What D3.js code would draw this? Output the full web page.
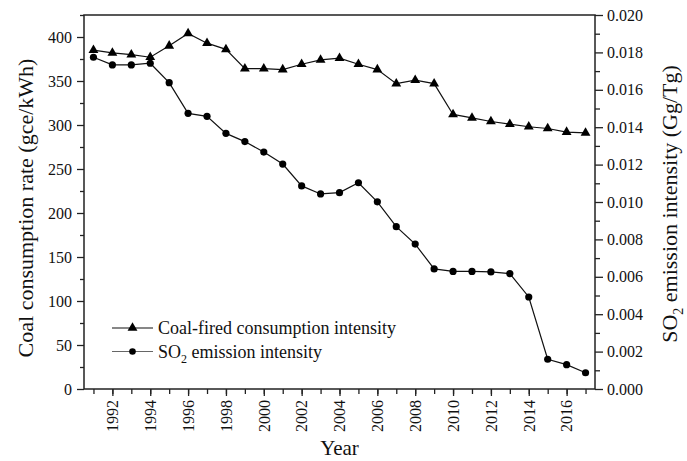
<!DOCTYPE html>
<html>
<head>
<meta charset="utf-8">
<script src="https://cdn.jsdelivr.net/npm/d3@7"></script>
<style>
  body { margin: 0; background: #fff; }
  svg { display: block; font-family: "Liberation Serif", "Times New Roman", serif; }
</style>
</head>
<body>
<div id="chart"></div>
<script>
// data
var years = d3.range(1991, 2018);
var coalRate = [385, 382, 380, 377, 390, 404, 393, 386, 364, 364, 363, 369, 374, 376,
  369, 363, 347, 351, 347, 312, 308, 304, 301, 298, 296, 292, 291];
var so2Intensity = [0.01774, 0.01733, 0.01733, 0.01742, 0.01638, 0.01474, 0.01458, 0.01367,
  0.01323, 0.01267, 0.01203, 0.01086, 0.01043, 0.0105, 0.01103, 0.01001, 0.00868, 0.00775,
  0.00642, 0.00629, 0.00629, 0.00626, 0.00617, 0.00492, 0.00159, 0.0013, 0.00087];
var yearTicks = d3.range(1992, 2017, 2);
var leftTicks = d3.range(0, 401, 50);
var rightTicks = d3.range(0, 0.0201, 0.002);

var width = 687, height = 461;
var margin = { top: 15, right: 92, bottom: 72, left: 84 };

var svg = d3.select("#chart").append("svg").attr("width", width).attr("height", height);

var x = d3.scaleLinear([1990.5, 2017.5], [margin.left, width - margin.right]);
var yL = d3.scaleLinear([0, 425], [height - margin.bottom, margin.top]);
var yR = d3.scaleLinear([0, 0.02], [height - margin.bottom, margin.top]);

var bottom = height - margin.bottom;
var axisColor = "#222";

function styleAxis(g) {
  g.attr("font-family", null).attr("font-size", null);
  g.select(".domain").remove();
  g.selectAll("line").attr("stroke", axisColor).attr("stroke-width", 1.3);
  g.selectAll("text").attr("fill", "#111").attr("font-size", 16);
}

// minor ticks
svg.append("g").attr("transform", "translate(0," + bottom + ")")
  .call(d3.axisBottom(x).tickValues(d3.range(1991, 2018)).tickSize(5).tickFormat(""))
  .call(styleAxis);
svg.append("g").attr("transform", "translate(" + margin.left + ",0)")
  .call(d3.axisLeft(yL).tickValues(d3.range(25, 426, 50)).tickSize(4).tickFormat(""))
  .call(styleAxis);
svg.append("g").attr("transform", "translate(" + (width - margin.right) + ",0)")
  .call(d3.axisRight(yR).tickValues(d3.range(0.001, 0.02, 0.002)).tickSize(5).tickFormat(""))
  .call(styleAxis);

// major ticks
svg.append("g").attr("transform", "translate(0," + bottom + ")")
  .call(d3.axisBottom(x).tickValues(yearTicks).tickSize(7).tickFormat(d3.format("d")))
  .call(styleAxis)
  .call(function (g) {
    g.selectAll("text")
      .attr("transform", "rotate(-90)")
      .attr("text-anchor", "end")
      .attr("x", -11)
      .attr("y", 0)
      .attr("dy", "0.33em");
  });
svg.append("g").attr("transform", "translate(" + margin.left + ",0)")
  .call(d3.axisLeft(yL).tickValues(leftTicks).tickSize(7).tickPadding(5))
  .call(styleAxis);
svg.append("g").attr("transform", "translate(" + (width - margin.right) + ",0)")
  .call(d3.axisRight(yR).tickValues(rightTicks).tickSize(8).tickPadding(4).tickFormat(d3.format(".3f")))
  .call(styleAxis);

// frame
svg.append("rect")
  .attr("x", margin.left)
  .attr("y", margin.top)
  .attr("width", width - margin.left - margin.right)
  .attr("height", height - margin.top - margin.bottom)
  .attr("fill", "none")
  .attr("stroke", axisColor)
  .attr("stroke-width", 1.5);

// series
var coalData = years.map(function (d, i) { return [d, coalRate[i]]; });
var so2Data = years.map(function (d, i) { return [d, so2Intensity[i]]; });

svg.append("path")
  .datum(coalData)
  .attr("fill", "none")
  .attr("stroke", "#111")
  .attr("stroke-width", 1.2)
  .attr("d", d3.line().x(function (d) { return x(d[0]); }).y(function (d) { return yL(d[1]); }));

svg.append("path")
  .datum(so2Data)
  .attr("fill", "none")
  .attr("stroke", "#111")
  .attr("stroke-width", 1.2)
  .attr("d", d3.line().x(function (d) { return x(d[0]); }).y(function (d) { return yR(d[1]); }));

var tri = d3.symbol().type(d3.symbolTriangle).size(42);

svg.append("g")
  .selectAll("path")
  .data(coalData)
  .join("path")
  .attr("d", tri)
  .attr("fill", "#000")
  .attr("transform", function (d) { return "translate(" + x(d[0]) + "," + yL(d[1]) + ")"; });

svg.append("g")
  .selectAll("circle")
  .data(so2Data)
  .join("circle")
  .attr("cx", function (d) { return x(d[0]); })
  .attr("cy", function (d) { return yR(d[1]); })
  .attr("r", 3.6)
  .attr("fill", "#000");

// legend
var legend = svg.append("g").attr("transform", "translate(112,328)");
legend.append("line").attr("x1", 0).attr("x2", 41).attr("y1", 0).attr("y2", 0)
  .attr("stroke", "#111").attr("stroke-width", 1.2);
legend.append("path").attr("d", tri).attr("fill", "#000").attr("transform", "translate(20.5,0)");
legend.append("text").attr("x", 46).attr("y", 6).attr("font-size", 18).attr("fill", "#111")
  .text("Coal-fired consumption intensity");

legend.append("line").attr("x1", 0).attr("x2", 41).attr("y1", 23.5).attr("y2", 23.5)
  .attr("stroke", "#666").attr("stroke-width", 1.1);
legend.append("circle").attr("cx", 20.5).attr("cy", 23.5).attr("r", 3.3).attr("fill", "#000");
var t2 = legend.append("text").attr("x", 46).attr("y", 29.5).attr("font-size", 18).attr("fill", "#111");
t2.append("tspan").text("SO");
t2.append("tspan").attr("font-size", 12).attr("dy", 5).text("2");
t2.append("tspan").attr("dy", -5).text(" emission intensity");

// axis titles
svg.append("text")
  .attr("transform", "translate(33,208) rotate(-90)")
  .attr("text-anchor", "middle")
  .attr("font-size", 22)
  .attr("fill", "#111")
  .text("Coal consumption rate (gce/kWh)");

var rt = svg.append("text")
  .attr("transform", "translate(677,204) rotate(-90)")
  .attr("text-anchor", "middle")
  .attr("font-size", 22)
  .attr("fill", "#111");
rt.append("tspan").text("SO");
rt.append("tspan").attr("font-size", 14).attr("dy", 6).text("2");
rt.append("tspan").attr("dy", -6).text(" emission intensity (Gg/Tg)");

svg.append("text")
  .attr("x", (margin.left + width - margin.right) / 2)
  .attr("y", 455)
  .attr("text-anchor", "middle")
  .attr("font-size", 21)
  .attr("fill", "#111")
  .text("Year");
</script>
</body>
</html>
